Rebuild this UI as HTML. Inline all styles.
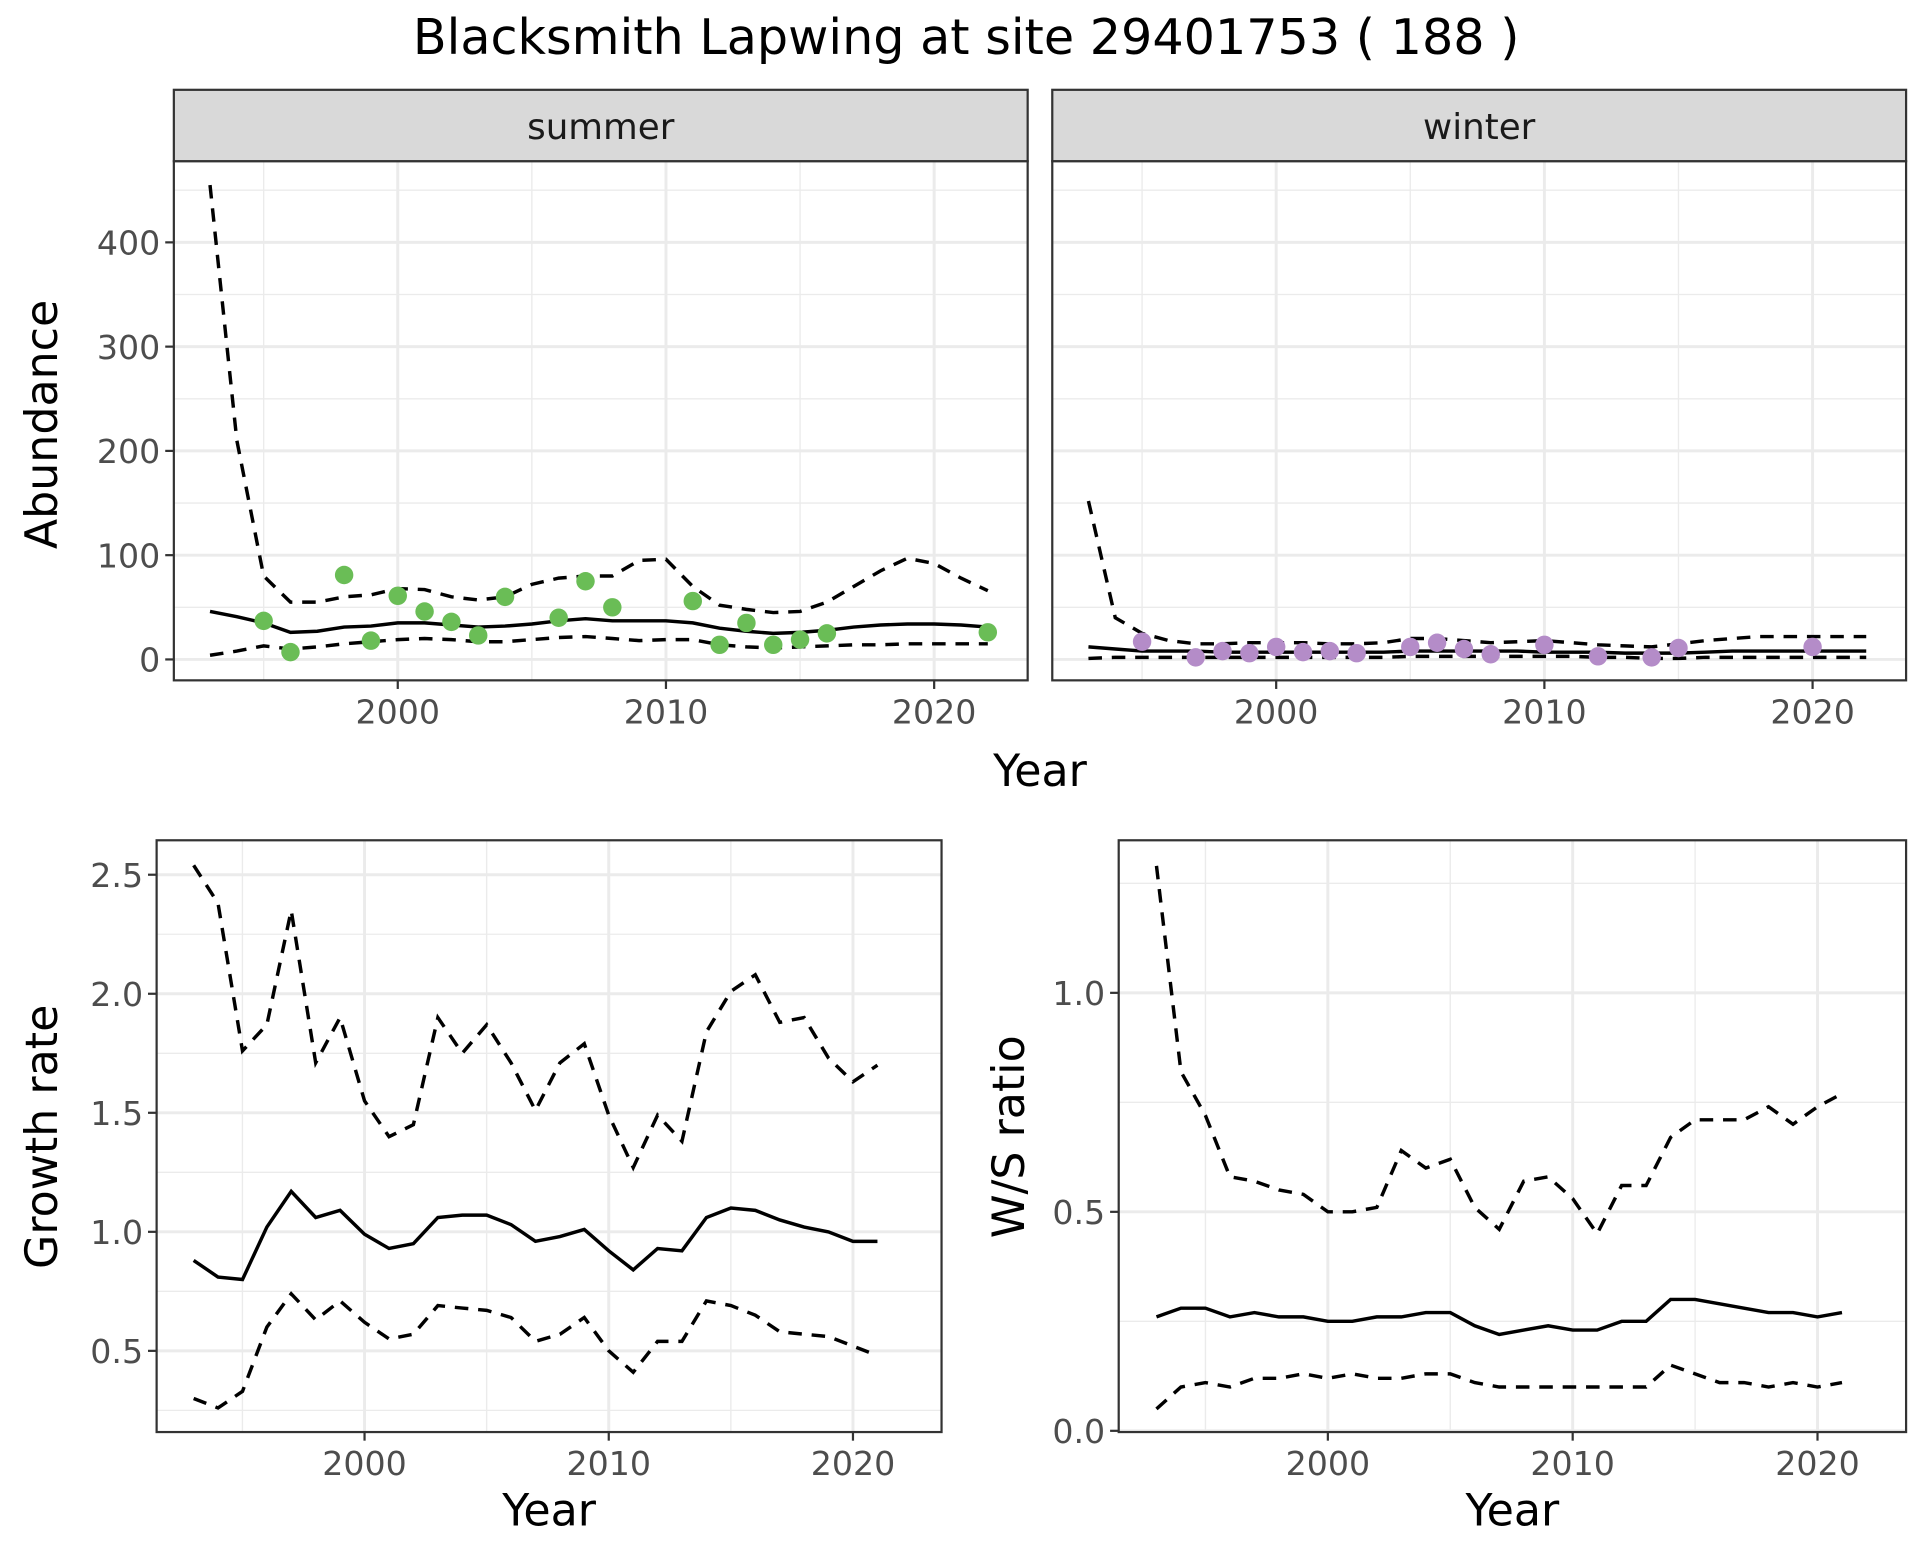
<!DOCTYPE html>
<html><head><meta charset="utf-8"><style>
html,body{margin:0;padding:0;background:#fff}
svg{display:block}
text{font-family:"DejaVu Sans","Liberation Sans",sans-serif}
</style></head><body>
<svg id="chart" width="1920" height="1560" viewBox="0 0 1560 1268" xmlns="http://www.w3.org/2000/svg">
<text x="785" y="44" font-size="40" text-anchor="middle" fill="#000">Blacksmith Lapwing at site 29401753 ( 188 )</text>
<g id="root"></g>
</svg>
<script>
const sumYears=[1993,1994,1995,1996,1997,1998,1999,2000,2001,2002,2003,2004,2005,2006,2007,2008,2009,2010,2011,2012,2013,2014,2015,2016,2017,2018,2019,2020,2021,2022];
const sumMean=[46,41,35,26,27,31,32,35,35,33,31,32,34,37,39,37,37,37,35,30,27,25,26,28,31,33,34,34,33,31];
const sumUpper=[455,210,80,55,55,60,62,68,67,60,57,60,72,78,80,80,95,96,70,52,48,45,46,55,70,85,97,92,78,66];
const sumLower=[4,8,13,10,12,15,17,19,20,19,17,17,19,21,22,20,18,19,19,14,12,11,12,13,14,14,15,15,15,15];
const sumPtYears=[1995,1996,1998,1999,2000,2001,2002,2003,2004,2006,2007,2008,2011,2012,2013,2014,2015,2016,2022];
const sumPtVals=[37,7,81,18,61,46,36,23,60,40,75,50,56,14,35,14,19,25,26];
const winMean=[12,10,8,8,8,7,7,7,7,7,7,7,8,8,8,8,8,7,7,7,6,6,6,7,8,8,8,8,8,8];
const winUpper=[152,40,25,18,15,15,16,16,16,15,15,16,20,20,18,16,17,18,16,14,13,12,15,18,20,22,22,22,22,22];
const winLower=[1,2,2,2,2,2,2,2,2,2,2,2,3,3,3,3,3,3,3,2,2,1,1,2,2,2,2,2,2,2];
const winPtYears=[1995,1997,1998,1999,2000,2001,2002,2003,2005,2006,2007,2008,2010,2012,2014,2015,2020];
const winPtVals=[17,2,8,6,12,7,8,6,12,16,10,5,14,3,2,11,12];
const grYears=[1993,1994,1995,1996,1997,1998,1999,2000,2001,2002,2003,2004,2005,2006,2007,2008,2009,2010,2011,2012,2013,2014,2015,2016,2017,2018,2019,2020,2021];
const grMean=[.88,.81,.80,1.02,1.17,1.06,1.09,.99,.93,.95,1.06,1.07,1.07,1.03,.96,.98,1.01,.92,.84,.93,.92,1.06,1.10,1.09,1.05,1.02,1.00,.96,.96];
const grUpper=[2.54,2.38,1.76,1.87,2.35,1.71,1.90,1.55,1.40,1.45,1.90,1.75,1.87,1.71,1.51,1.71,1.79,1.49,1.27,1.49,1.38,1.84,2.01,2.08,1.88,1.90,1.73,1.63,1.70];
const grLower=[.30,.26,.33,.60,.74,.63,.71,.62,.55,.57,.69,.68,.67,.64,.54,.57,.64,.50,.41,.54,.54,.71,.69,.65,.58,.57,.56,.52,.48];
const wsMean=[.26,.28,.28,.26,.27,.26,.26,.25,.25,.26,.26,.27,.27,.24,.22,.23,.24,.23,.23,.25,.25,.30,.30,.29,.28,.27,.27,.26,.27];
const wsUpper=[1.29,.82,.72,.58,.57,.55,.54,.50,.50,.51,.64,.60,.62,.51,.46,.57,.58,.53,.45,.56,.56,.67,.71,.71,.71,.74,.70,.74,.77];
const wsLower=[.05,.10,.11,.10,.12,.12,.13,.12,.13,.12,.12,.13,.13,.11,.10,.10,.10,.10,.10,.10,.10,.15,.13,.11,.11,.10,.11,.10,.11];
const xTicks=[2000,2010,2020];
const abTicks=[0,100,200,300,400];
const grTicks=[0.5,1.0,1.5,2.0,2.5];
const wsTicks=[0.0,0.5,1.0];

const NS="http://www.w3.org/2000/svg";
const root=document.getElementById('root');
function el(tag,attrs,parent){const e=document.createElementNS(NS,tag);for(const k in attrs)e.setAttribute(k,attrs[k]);(parent||root).appendChild(e);return e;}
function lin(d0,d1,r0,r1){return v=>r0+(v-d0)/(d1-d0)*(r1-r0);}

function panel(o){
  const g=el('g',{});
  
  
  const x=o.x,y=o.y;
  for(let yr=1995;yr<=2020;yr+=10){const l=el('line',{x1:x(yr),x2:x(yr),y1:o.t,y2:o.b,stroke:'#EBEBEB','stroke-width':1.1},g);}
  o.minorY.forEach(v=>{const l=el('line',{x1:o.l,x2:o.r,y1:y(v),y2:y(v),stroke:'#EBEBEB','stroke-width':1.1},g);});
  xTicks.forEach(yr=>{const l=el('line',{x1:x(yr),x2:x(yr),y1:o.t,y2:o.b,stroke:'#EBEBEB','stroke-width':2.4},g);});
  o.yTicks.forEach(v=>{const l=el('line',{x1:o.l,x2:o.r,y1:y(v),y2:y(v),stroke:'#EBEBEB','stroke-width':2.4},g);});
  const path=(xs,vs)=>xs.map((yr,i)=>(i?'L':'M')+x(yr).toFixed(1)+','+y(vs[i]).toFixed(1)).join('');
  const pu=el('path',{d:path(o.years,o.upper),fill:'none',stroke:'#000','stroke-width':2.8,'stroke-dasharray':'11,8'},g);
  
  const pl=el('path',{d:path(o.years,o.lower),fill:'none',stroke:'#000','stroke-width':2.8,'stroke-dasharray':'11,8'},g);
  
  const pm=el('path',{d:path(o.years,o.mean),fill:'none',stroke:'#000','stroke-width':2.8},g);
  
  if(o.ptYears){o.ptYears.forEach((yr,i)=>{const c=el('circle',{cx:x(yr),cy:y(o.ptVals[i]),r:7.5,fill:o.ptColor},g);});}
  const br=el('rect',{x:o.l,y:o.t,width:o.r-o.l,height:o.b-o.t,fill:'none',stroke:'#333','stroke-width':1.8},g);
  
  xTicks.forEach(yr=>{el('line',{x1:x(yr),x2:x(yr),y1:o.b,y2:o.b+7,stroke:'#333','stroke-width':1.8},g);
    const t=el('text',{x:x(yr),y:o.b+35,'font-size':27,'text-anchor':'middle',fill:'#4D4D4D'},g);t.textContent=yr;
    });
  if(o.showY){o.yTicks.forEach(v=>{el('line',{x1:o.l-7,x2:o.l,y1:y(v),y2:y(v),stroke:'#333','stroke-width':1.8},g);
    const t=el('text',{x:o.l-11,y:y(v)+10,'font-size':27,'text-anchor':'end',fill:'#4D4D4D'},g);t.textContent=o.fmt(v);
    });}
  if(o.strip){const s=el('rect',{x:o.l,y:73,width:o.r-o.l,height:o.t-73,fill:'#D9D9D9',stroke:'#333','stroke-width':1.8},g);
    
    const t=el('text',{x:(o.l+o.r)/2,y:113,'font-size':29,'text-anchor':'middle',fill:'#1A1A1A'},g);t.textContent=o.strip;
    }
}
const abY=lin(0,400,536,197);
panel({name:'summer-panel',l:141,r:835,t:131,b:553,x:lin(2000,2020,323,759),y:abY,yTicks:abTicks,minorY:[50,150,250,350,450],years:sumYears,mean:sumMean,upper:sumUpper,lower:sumLower,ptYears:sumPtYears,ptVals:sumPtVals,ptColor:'#6ABD56',showY:true,fmt:v=>v,strip:'summer'});
panel({name:'winter-panel',l:855,r:1549,t:131,b:553,x:lin(2000,2020,1037,1473),y:abY,yTicks:abTicks,minorY:[50,150,250,350,450],years:sumYears,mean:winMean,upper:winUpper,lower:winLower,ptYears:winPtYears,ptVals:winPtVals,ptColor:'#B48CC8',showY:false,fmt:v=>v,strip:'winter'});
panel({name:'growth-rate-panel',l:127,r:765,t:683,b:1164,x:lin(2000,2020,296,693),y:lin(0.5,2.5,1098,711),yTicks:grTicks,minorY:[0.25,0.75,1.25,1.75,2.25],years:grYears,mean:grMean,upper:grUpper,lower:grLower,showY:true,fmt:v=>v.toFixed(1)});
panel({name:'ws-ratio-panel',l:909,r:1549,t:683,b:1164,x:lin(2000,2020,1079,1477),y:lin(0,1,1163,807),yTicks:wsTicks,minorY:[0.25,0.75,1.25],years:grYears,mean:wsMean,upper:wsUpper,lower:wsLower,showY:true,fmt:v=>v.toFixed(1)});
function label(txt,x,y,rot,name){const t=el('text',{x:x,y:y,'font-size':36,'text-anchor':'middle',fill:'#000'});
  if(rot)t.setAttribute('transform','rotate(-90 '+x+' '+y+')');t.textContent=txt;
  }
label('Abundance',46,345,true,'y-axis-title-abundance');
label('Year',845,639,false,'x-axis-title-top');
label('Growth rate',46,924,true,'y-axis-title-growth');
label('Year',446,1240,false,'x-axis-title-growth');
label('W/S ratio',832,924,true,'y-axis-title-ws');
label('Year',1229,1240,false,'x-axis-title-ws');
</script>
</body></html>
